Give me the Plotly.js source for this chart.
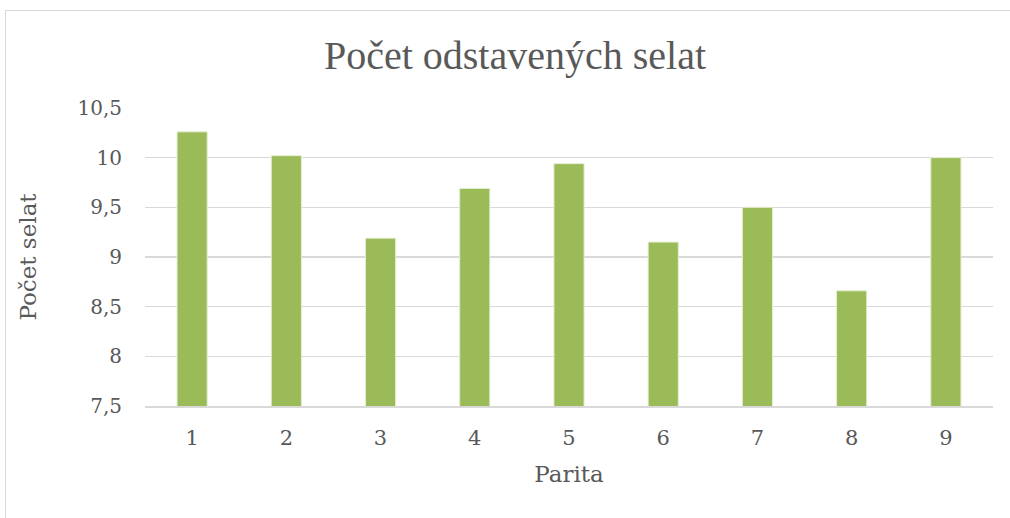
<!DOCTYPE html>
<html>
<head>
<meta charset="utf-8">
<script src="https://cdn.plot.ly/plotly-3.0.1.min.js"></script>
<style>
  html, body { margin: 0; padding: 0; background: #ffffff; overflow: hidden; }
  #frame { position: absolute; left: 5px; top: 10px; width: 1020px; height: 530px; border: 1px solid #d9d9d9; box-sizing: border-box; }
  #chart { position: absolute; left: 0; top: 0; width: 1010px; height: 518px; }
</style>
</head>
<body>
<div id="frame"></div>
<div id="chart"></div>
<script>
const categories = ["1", "2", "3", "4", "5", "6", "7", "8", "9"];
const values = [10.26, 10.02, 9.19, 9.69, 9.94, 9.15, 9.50, 8.66, 10.00];
const yTickValues = [7.5, 8, 8.5, 9, 9.5, 10, 10.5];
const yTickLabels = ["7,5", "8", "8,5", "9", "9,5", "10", "10,5"];
const chartTitle = "Počet odstavených selat";
const xTitle = "Parita";
const yTitle = "Počet selat";

const fontFamily = "'DejaVu Serif', 'Liberation Serif', serif";
const textColor = "#595959";

const trace = {
  type: "bar",
  x: categories,
  y: values,
  marker: { color: "#9bbb59", line: { color: "#e4eed2", width: 1 } },
  hoverinfo: "x+y"
};

const layout = {
  width: 1010,
  height: 518,
  paper_bgcolor: "rgba(0,0,0,0)",
  plot_bgcolor: "rgba(0,0,0,0)",
  separators: ", ",
  margin: { l: 145, r: 17, t: 108, b: 112 },
  bargap: 0.68,
  showlegend: false,
  title: {
    text: chartTitle,
    font: { family: "'Liberation Serif', serif", size: 40, color: textColor },
    x: 515 / 1010, xanchor: "center",
    y: 1 - 55 / 518, yanchor: "middle"
  },
  xaxis: {
    type: "category",
    range: [-0.5, 8.5],
    showgrid: false,
    showline: true,
    linecolor: "#d9d9d9",
    linewidth: 1.5,
    ticks: "",
    tickfont: { family: fontFamily, size: 21, color: textColor },
    ticklabelstandoff: 12,
    title: { text: xTitle, font: { family: fontFamily, size: 23, color: textColor }, standoff: 17 }
  },
  yaxis: {
    range: [7.5, 10.5],
    tickvals: yTickValues,
    ticktext: yTickLabels,
    showgrid: true,
    gridcolor: "#d9d9d9",
    gridwidth: 1.5,
    zeroline: false,
    showline: false,
    ticks: "",
    tickfont: { family: fontFamily, size: 20, color: textColor },
    ticklabelstandoff: 22,
    title: { text: yTitle, font: { family: fontFamily, size: 23, color: textColor }, standoff: 34 }
  }
};

Plotly.newPlot("chart", [trace], layout, { displayModeBar: false, staticPlot: true });
</script>
</body>
</html>
